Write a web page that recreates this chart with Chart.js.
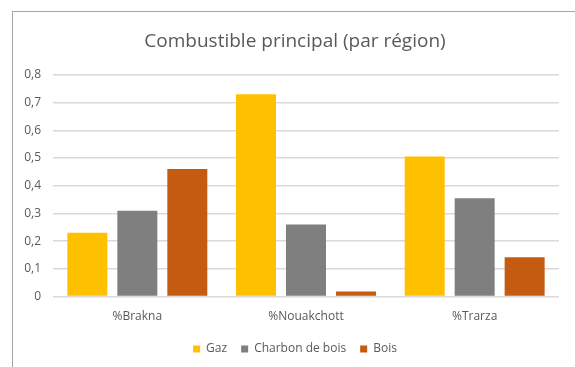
<!DOCTYPE html>
<html>
<head>
<meta charset="utf-8">
<script src="https://cdn.jsdelivr.net/npm/chart.js@4/dist/chart.umd.min.js"></script>
<style>
  html, body { margin: 0; padding: 0; background: #fff; }
  #wrap { position: relative; width: 575px; height: 367px; overflow: hidden; }
  #frame { position: absolute; left: 12px; top: 11px; width: 600px; height: 400px;
           border-top: 1px solid #a6a6a6; border-left: 1px solid #a6a6a6; }
  canvas { position: absolute; left: 0; top: 0; }
</style>
</head>
<body>
<div id="wrap">
  <div id="frame"></div>
  <canvas id="c" width="575" height="367"></canvas>
</div>
<script>
const categories = ['%Brakna', '%Nouakchott', '%Trarza'];
const gaz = [0.23, 0.73, 0.505];
const charbon = [0.31, 0.26, 0.355];
const bois = [0.46, 0.018, 0.142];
const yTicks = ['0', '0,1', '0,2', '0,3', '0,4', '0,5', '0,6', '0,7', '0,8'];

const FONT = 'Open Sans';
new Chart(document.getElementById('c'), {
  type: 'bar',
  data: {
    labels: categories,
    datasets: [
      { label: 'Gaz', data: gaz, backgroundColor: '#FFC000' },
      { label: 'Charbon de bois', data: charbon, backgroundColor: '#7F7F7F' },
      { label: 'Bois', data: bois, backgroundColor: '#C55A11' }
    ]
  },
  options: {
    responsive: false,
    animation: false,
    devicePixelRatio: 1,
    categoryPercentage: 0.889,
    barPercentage: 0.8,
    layout: { padding: { left: 15, right: 0, top: 30, bottom: 2 } },
    plugins: {
      title: {
        display: true,
        text: 'Combustible principal (par région)',
        color: '#595959',
        font: { family: FONT, size: 19, weight: 'normal' },
        padding: { top: 0, bottom: 22 }
      },
      legend: {
        position: 'bottom',
        labels: {
          color: '#595959',
          font: { family: FONT, size: 12 },
          boxWidth: 7, boxHeight: 7, padding: 14
        }
      },
      tooltip: { enabled: false }
    },
    scales: {
      x: {
        grid: { display: false },
        border: { display: false },
        ticks: { color: '#595959', font: { family: FONT, size: 12 }, padding: 5 }
      },
      y: {
        min: 0, max: 0.8,
        afterFit: s => { s.width = 38; },
        grid: { color: '#D9D9D9', lineWidth: 1.5, drawTicks: false },
        border: { display: false },
        ticks: {
          stepSize: 0.1,
          padding: 12,
          color: '#595959',
          font: { family: FONT, size: 12 },
          callback: (v, i) => yTicks[i]
        }
      },
      yr: {
        position: 'right',
        display: true,
        min: 0, max: 1,
        afterFit: s => { s.width = 16; },
        grid: { display: false },
        border: { display: false },
        ticks: { display: false }
      }
    }
  }
});
</script>
</body>
</html>
